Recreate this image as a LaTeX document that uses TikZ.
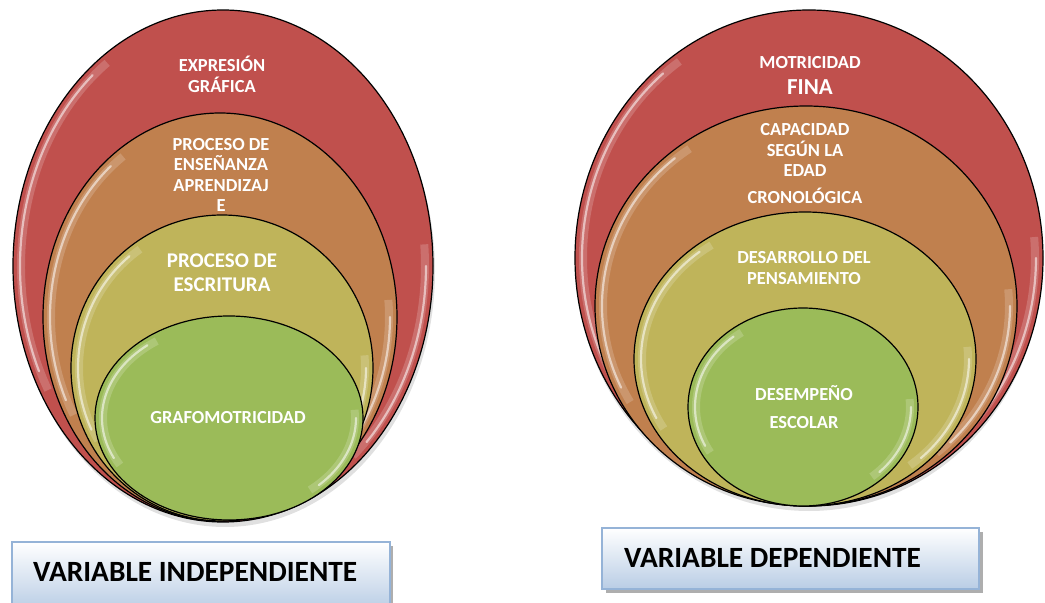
\documentclass[tikz,border=0pt]{standalone}
\usepackage{fontspec}
\setmainfont{Carlito}
\definecolor{cred}{RGB}{192,80,77}
\definecolor{corange}{RGB}{192,128,78}
\definecolor{cyellow}{RGB}{191,180,90}
\definecolor{cgreen}{RGB}{155,187,89}
\definecolor{boxline}{RGB}{149,179,215}
\definecolor{boxbot}{RGB}{185,205,229}
\tikzset{
  ringline/.style={draw=black, line width=1.2bp},
  lab/.style={text=white, font=\bfseries\fontsize{18.5}{21}\selectfont, anchor=base, inner sep=0pt},
  labbig/.style={text=white, font=\bfseries\fontsize{21}{24}\selectfont, anchor=base, inner sep=0pt},
  varbox/.style={draw=boxline, line width=1.5bp, top color=white, bottom color=boxbot},
  varshadow/.style={fill=black!45, opacity=.7},
  vartext/.style={text=black, font=\bfseries\fontsize{29.5}{33}\selectfont, anchor=base west, inner sep=0pt},
}
\newcommand\glossell[5]{%
  \draw[ringline, fill=#5] (#1,#2) ellipse [x radius=#3, y radius=#4];
  \draw[white, opacity=.18, line width=8bp] (#1,#2) ++(150:{#3-8} and {#4-8}) arc[start angle=150, end angle=235, x radius={#3-8}, y radius={#4-8}];
  \draw[white, opacity=.55, line width=2.2bp, line cap=round] (#1,#2) ++(155:{#3-7} and {#4-7}) arc[start angle=155, end angle=230, x radius={#3-7}, y radius={#4-7}];
  \draw[white, opacity=.18, line width=8bp] (#1,#2) ++(-5:{#3-8} and {#4-8}) arc[start angle=-5, end angle=50, x radius={#3-8}, y radius={#4-8}];
  \draw[white, opacity=.55, line width=2.2bp, line cap=round] (#1,#2) ++(0:{#3-7} and {#4-7}) arc[start angle=0, end angle=45, x radius={#3-7}, y radius={#4-7}];
}
\begin{document}
\begin{tikzpicture}[x=1bp, y=-1bp]
\useasboundingbox (0,0) rectangle (1045,603);
\clip (0,0) rectangle (1045,603);
% soft shadows
\fill[black, opacity=.12] (225,271) ellipse [x radius=210, y radius=256];
\fill[black, opacity=.12] (809,263) ellipse [x radius=233, y radius=248];
% left diagram
\glossell{223}{266}{210}{256}{cred}
\glossell{220}{317}{177}{204}{corange}
\glossell{222}{368}{151}{153}{cyellow}
\glossell{229}{418}{134}{102}{cgreen}
% right diagram
\glossell{809}{258}{234}{248}{cred}
\glossell{806}{306}{211}{200}{corange}
\glossell{805}{359}{171}{147}{cyellow}
\glossell{803}{407}{115}{99}{cgreen}
% left labels
\node[lab] (la1) at (222,72) {EXPRESIÓN};
\node[lab] (la2) at (222,93) {GRÁFICA};
\node[lab] (lb1) at (221,151) {PROCESO DE};
\node[lab] (lb2) at (221,171) {ENSEÑANZA};
\node[lab] (lb3) at (221,192) {APRENDIZAJ};
\node[lab] (lb4) at (221,212) {E};
\node[labbig] (lc1) at (222,268) {PROCESO DE};
\node[labbig] (lc2) at (222,292) {ESCRITURA};
\node[lab] (ld1) at (228,423) {GRAFOMOTRICIDAD};
% right labels
\node[lab] (ra1) at (810,69) {MOTRICIDAD};
\node[labbig, font=\bfseries\fontsize{23}{26}\selectfont] (ra2) at (810,95) {FINA};
\node[lab] (rb1) at (805,136) {CAPACIDAD};
\node[lab] (rb2) at (805,157) {SEGÚN LA};
\node[lab] (rb3) at (805,177) {EDAD};
\node[lab] (rb4) at (805,204) {CRONOLÓGICA};
\node[lab] (rc1) at (804,264) {DESARROLLO DEL};
\node[lab] (rc2) at (804,285) {PENSAMIENTO};
\node[lab] (rd1) at (804,400) {DESEMPEÑO};
\node[lab] (rd2) at (804,428) {ESCOLAR};
% variable boxes
\fill[varshadow] (16,546) rectangle (393,610);
\draw[varbox] (12,542) rectangle (390,610);
\node[vartext] (vi) at (33,581) {VARIABLE INDEPENDIENTE};
\fill[varshadow] (606,532) rectangle (983,593);
\draw[varbox] (602,528) rectangle (979,589);
\node[vartext] (vd) at (624,567) {VARIABLE DEPENDIENTE};
\end{tikzpicture}
\end{document}
